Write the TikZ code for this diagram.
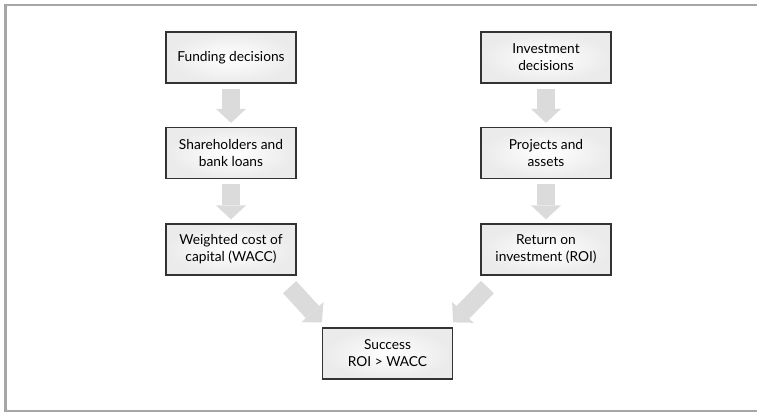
\documentclass[tikz,border=0pt]{standalone}
\usepackage{fontspec}
\setmainfont{Lato}
\usetikzlibrary{arrows.meta}

\begin{document}
\begin{tikzpicture}[x=0.75pt,y=-0.75pt,
	box/.style={draw=black!80, line width=0.9pt, inner color=white, outer color=gray!16,
		minimum width=97.5pt, minimum height=38.25pt, align=center,
		font=\fontsize{10.3}{12.75}\selectfont},
	bigarrow/.style={draw=gray!28, line width=13.5pt,
		-{Triangle[width=22.5pt,length=10.5pt,line width=0pt]}}]
	\useasboundingbox (0,0) rectangle (757,412);
	\clip (0,0) rectangle (757,412);
	% frame, open on the right
	\draw[gray!70, line width=2pt] (800,5) -- (5.5,5) -- (5.5,411) -- (800,411);
	% funding side
	\node[box] (fund) at (231,57.5) {Funding decisions};
	\node[box] (share) at (231,153) {Shareholders and\\bank loans};
	\node[box] (wacc) at (231,249.5) {Weighted cost of\\capital (WACC)};
	% investment side
	\node[box] (inv) at (546,57.5) {Investment\\decisions};
	\node[box] (proj) at (546,153) {Projects and\\assets};
	\node[box] (roi) at (546,249.5) {Return on\\investment (ROI)};
	% result
	\node[box] (succ) at (387.5,353.5) {Success\\ROI > WACC};
	\draw[bigarrow, shorten <=3.75pt, shorten >=3pt] (fund) -- (share);
	\draw[bigarrow, shorten <=3.75pt, shorten >=3pt] (share) -- (wacc);
	\draw[bigarrow, shorten <=3.75pt, shorten >=3pt] (inv) -- (proj);
	\draw[bigarrow, shorten <=3.75pt, shorten >=3pt] (proj) -- (roi);
	\draw[bigarrow] ([shift={(-7,11.5)}]wacc.south east) -- ([shift={(0,-5)}]succ.north west);
	\draw[bigarrow] ([shift={(7,11.5)}]roi.south west) -- ([shift={(0,-5)}]succ.north east);
\end{tikzpicture}
\end{document}
